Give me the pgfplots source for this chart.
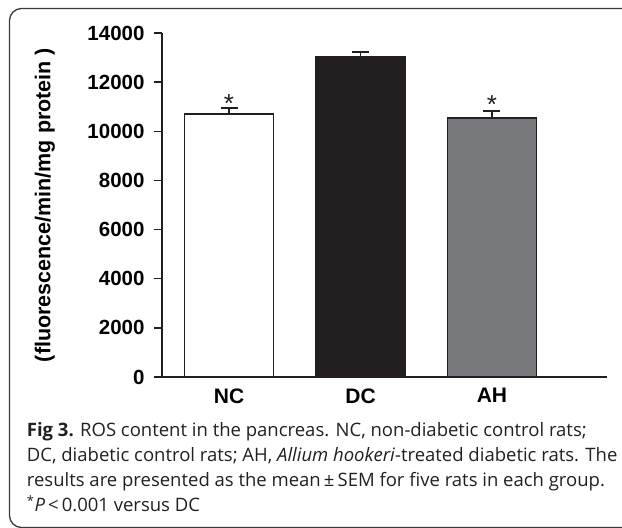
\documentclass[border=0pt]{standalone}
\usepackage{fontspec}
\setmainfont{Liberation Sans}
\newfontfamily\capfont{Open Sans}
\usepackage{pgfplots}
\pgfplotsset{compat=1.18}
\definecolor{barblack}{HTML}{231F20}
\definecolor{bargray}{HTML}{77787B}
\definecolor{framegray}{HTML}{3A3A3A}
\begin{document}
\begin{tikzpicture}[x=1pt,y=1pt]
\useasboundingbox (0,0) rectangle (622,528);
\draw[framegray, line width=1.3pt, rounded corners=12pt] (9.5,0.5) rectangle (660,519.5);
\begin{axis}[
  at={(162pt,151pt)}, anchor=south west,
  width=445pt, height=344pt, scale only axis,
  xmin=-0.51, xmax=2.875, ymin=0, ymax=14000,
  axis x line*=bottom, axis y line*=left,
  axis line style={line width=1.3pt, barblack},
  xtick={0,1,2}, xticklabels={NC,DC,AH},
  x tick style={draw=none},
  ytick={0,2000,...,14000},
  tick align=outside, major tick length=8pt,
  y tick style={line width=1.3pt, barblack},
  scaled y ticks=false,
  /pgf/number format/assume math mode=true,
  yticklabel style={/pgf/number format/1000 sep={}, font=\fontsize{20.5}{20.5}\selectfont\bfseries, xshift=-6pt},
  xticklabel style={font=\fontsize{21}{21}\selectfont\bfseries},
  ylabel={(fluorescence/min/mg protein )},
  ylabel style={font=\fontsize{21.5}{21.5}\selectfont\bfseries, at={(axis description cs:-0.263,0.5)}, anchor=center},
  clip=false,
]
\addplot[ybar, bar width=89pt, bar shift=0pt, fill=white, draw=barblack, line width=1.3pt,
  error bars/.cd, y dir=plus, y explicit, error mark=|,
  error mark options={mark size=8.5pt, line width=1.5pt, barblack},
  error bar style={line width=1.5pt, barblack}]
  coordinates {(0,10700) +- (0,250)};
\addplot[ybar, bar width=89pt, bar shift=0pt, fill=barblack, draw=barblack, line width=1.3pt,
  error bars/.cd, y dir=plus, y explicit, error mark=|,
  error mark options={mark size=8.5pt, line width=1.5pt, barblack},
  error bar style={line width=1.5pt, barblack}]
  coordinates {(1,13020) +- (0,210)};
\addplot[ybar, bar width=89pt, bar shift=0pt, fill=bargray, draw=barblack, line width=1.3pt,
  error bars/.cd, y dir=plus, y explicit, error mark=|,
  error mark options={mark size=8.5pt, line width=1.5pt, barblack},
  error bar style={line width=1.5pt, barblack}]
  coordinates {(2,10540) +- (0,290)};
\addplot[draw=none, mark=none, nodes near coords, point meta=explicit symbolic,
  every node near coord/.style={font=\fontsize{26}{26}\selectfont, anchor=base, inner sep=0pt, text=barblack}]
  coordinates {(0,10750)[*] (2,10710)[*]};
\end{axis}
\begin{scope}[every node/.style={anchor=base west, inner sep=0pt, font=\capfont\fontsize{18.5}{18.5}\selectfont, text=barblack}]
\node at (26.7,91.3) {{\bfseries Fig 3.} ROS content in the pancreas. NC, non-diabetic control rats;};
\node at (26.7,66.3) {DC, diabetic control rats; AH, \textit{Allium hookeri}-treated diabetic rats. The};
\node at (26.7,41.3) {results are presented as the mean\,±\,SEM for five rats in each group.};
\node at (26.7,16.3) {\textsuperscript{*}\textit{P}\,<\,0.001 versus DC};
\end{scope}
\end{tikzpicture}
\end{document}
